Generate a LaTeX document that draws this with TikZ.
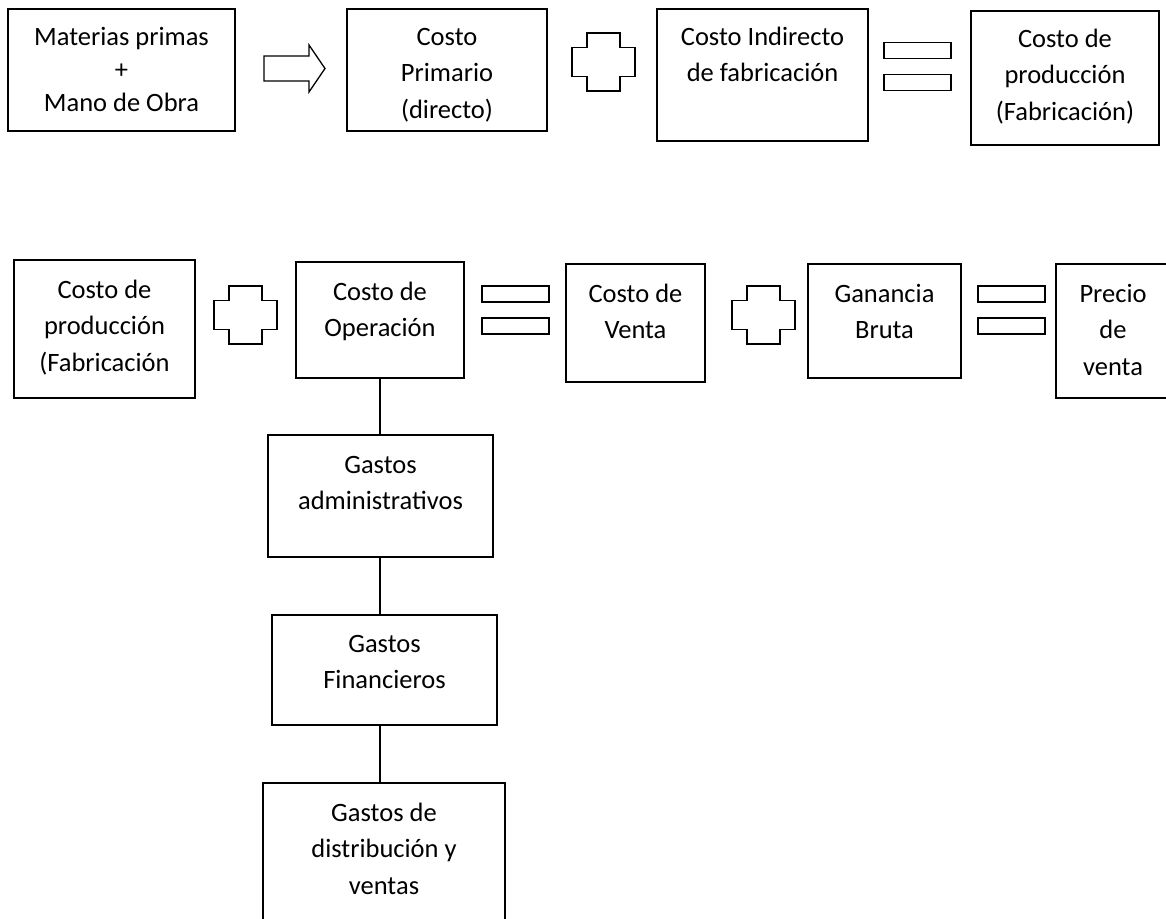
\documentclass[tikz,border=0pt]{standalone}
\usepackage{fontspec}
\setmainfont{Carlito}
% lines of a box label, first baseline = node baseline
\newcommand\boxlines[1]{\begin{tabular}[t]{@{}c@{}}#1\end{tabular}}
\tikzset{
  box/.style={draw=black, line width=1.6pt, inner sep=0pt, outer sep=0pt},
  txt/.style={inner sep=0pt, anchor=base, font=\fontsize{26.5}{36.5}\selectfont},
  sym/.style={draw=black, line width=1.3pt, line join=miter},
  link/.style={draw=black, line width=1.5pt},
  pics/plussign/.style={code={
    \draw[sym] (-16.5,-29) -- (16.5,-29) -- (16.5,-14.5) -- (31.5,-14.5) -- (31.5,14.5)
      -- (16.5,14.5) -- (16.5,29) -- (-16.5,29) -- (-16.5,14.5) -- (-31.5,14.5)
      -- (-31.5,-14.5) -- (-16.5,-14.5) -- cycle;}},
  pics/eqsign/.style={code={
    \draw[sym] (-33.5,-24) rectangle (33.5,-8);
    \draw[sym] (-33.5,8) rectangle (33.5,24);}}
}
\begin{document}
\begin{tikzpicture}[x=1pt, y=-1pt]
\clip (0,0) rectangle (1166,918);
\fill[white] (0,0) rectangle (1166,918);

% first row
\node[box, minimum width=227, minimum height=122] (mp) at (121.5,70) {};
\node[txt, font=\fontsize{26.5}{33}\selectfont] (mpt) at (121.5,45)
  {\boxlines{Materias primas\\+\\Mano de Obra}};
\draw[sym] (264,56) -- (309,56) -- (309,45) -- (325,68.5) -- (309,92) -- (309,81) -- (264,81) -- cycle;

\node[box, minimum width=200, minimum height=122] (cp) at (447,70) {};
\node[txt] (cpt) at (447,45) {\boxlines{Costo\\Primario\\(directo)}};
\pic at (603.5,62) {plussign};

\node[box, minimum width=211, minimum height=132] (ci) at (762.5,75) {};
\node[txt] (cit) at (762.5,45) {\boxlines{Costo Indirecto\\de fabricación}};
\pic at (917.5,66.5) {eqsign};

\node[box, minimum width=188, minimum height=134] (cf) at (1065,78) {};
\node[txt] (cft) at (1065,47) {\boxlines{Costo de\\producción\\(Fabricación)}};

% second row
\node[box, minimum width=181, minimum height=138] (pa) at (104.5,329) {};
\node[txt] (pat) at (104.5,298) {\boxlines{Costo de\\producción\\(Fabricación}};
\pic at (245.5,315) {plussign};

\node[box, minimum width=168, minimum height=116] (op) at (380,320) {};
\node[txt] (opt) at (380,300) {\boxlines{Costo de\\Operación}};
\pic at (515.5,310) {eqsign};

\node[box, minimum width=139, minimum height=118] (cv) at (635.5,323) {};
\node[txt] (cvt) at (635.5,302) {\boxlines{Costo de\\Venta}};
\pic at (763.5,315) {plussign};

\node[box, minimum width=153, minimum height=114] (gb) at (884.5,321) {};
\node[txt] (gbt) at (884.5,302) {\boxlines{Ganancia\\Bruta}};
\pic at (1011.5,310) {eqsign};

\node[box, minimum width=114, minimum height=134] (pv) at (1113,331) {};
\node[txt] (pvt) at (1113,302) {\boxlines{Precio\\de\\venta}};

% expense column
\node[box, minimum width=225, minimum height=122] (ga) at (380.5,496) {};
\node[txt] (gat) at (380.5,473) {\boxlines{Gastos\\administrativos}};

\node[box, minimum width=225, minimum height=110] (gf) at (384.5,670) {};
\node[txt] (gft) at (384.5,652) {\boxlines{Gastos\\Financieros}};

\node[box, minimum width=242, minimum height=157] (gd) at (384,861.5) {};
\node[txt] (gdt) at (384,821) {\boxlines{Gastos de\\distribución y\\ventas}};

\draw[link] (op.south) -- (op.south |- ga.north);
\draw[link] (ga.south -| op.south) -- (gf.north -| op.south);
\draw[link] (gf.south -| op.south) -- (gd.north -| op.south);
\end{tikzpicture}
\end{document}
